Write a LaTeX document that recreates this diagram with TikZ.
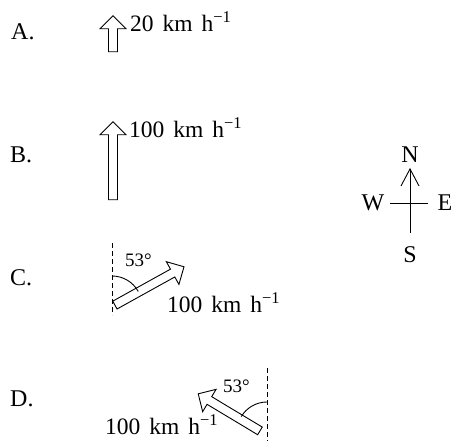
\documentclass[tikz,border=0pt]{standalone}
\usepackage{fontspec}
\setmainfont{Liberation Serif}
\usetikzlibrary{positioning, arrows.meta, shapes.arrows}
\newcommand{\kmph}{\hspace{0.38em}km\hspace{0.38em}h\textsuperscript{−1}}

\begin{document}
\begin{tikzpicture}[
  x=1pt, y=1pt,
  font=\fontsize{23.5}{28}\selectfont,
  optlabel/.style={font=\fontsize{24}{28}\selectfont, anchor=base west, inner sep=0pt},
  vel/.style={single arrow, draw, line width=0.9pt, inner sep=4pt, single arrow head extend=8.5pt, minimum width=26pt},
  spd/.style={anchor=base west, inner sep=0pt},
  ang/.style={font=\fontsize{19}{22}\selectfont, anchor=base west, inner sep=0pt},
  ref/.style={line width=0.9pt, dash pattern=on 5pt off 3pt},
  compass/.style={font=\fontsize{24}{28}\selectfont, inner sep=0pt},
  cline/.style={line width=0.9pt}
]
  \useasboundingbox (0,0) rectangle (455,441);

  % option labels
  \node[optlabel] (labA) at (11,401) {A.};
  \node[optlabel] (labB) at (10,278) {B.};
  \node[optlabel] (labC) at (10,155) {C.};
  \node[optlabel] (labD) at (10,34) {D.};

  % A
  \node[vel, minimum height=36pt, rotate=90] (arrA) at (113,405) {};
  \node[spd] (spdA) at (130,409) {20\kmph};

  % B
  \node[vel, minimum height=78pt, rotate=90] (arrB) at (113,278) {};
  \node[spd] (spdB) at (129,303) {100\kmph};

  % C
  \coordinate (refCt) at (112,198);
  \coordinate (refCb) at (112,126);
  \draw[ref] (refCt) -- (refCb);
  \node[vel, minimum height=79pt, rotate=29] (arrC) at (147.5,154) {};
  \coordinate (arcC) at (112,165);
  \draw[cline] (arcC) arc[start angle=90, end angle=29, radius=30];
  \node[ang] (angC) at (125,174) {53°};
  \node[spd] (spdC) at (167,128) {100\kmph};

  % D
  \coordinate (refDt) at (267,73);
  \coordinate (refDb) at (267,0);
  \draw[ref] (refDt) -- (refDb);
  \node[vel, minimum height=72pt, rotate=149] (arrD) at (231,27.5) {};
  \coordinate (arcD) at (267,39);
  \draw[cline] (arcD) arc[start angle=90, end angle=149, radius=30];
  \node[ang] (angD) at (223,48) {53°};
  \node[spd] (spdD) at (105,6) {100\kmph};

  % compass
  \coordinate (cN) at (410,273);
  \coordinate (cS) at (410,208);
  \coordinate (cW) at (390,238);
  \coordinate (cE) at (428,238);
  \draw[cline, -{Straight Barb[length=17pt, width=18pt]}] (cS) -- (cN);
  \draw[cline] (cW) -- (cE);
  \node[compass] (n) at (410,286) {N};
  \node[compass] (s) at (410,186) {S};
  \node[compass] (w) at (373,238) {W};
  \node[compass] (e) at (445,238) {E};
\end{tikzpicture}
\end{document}
